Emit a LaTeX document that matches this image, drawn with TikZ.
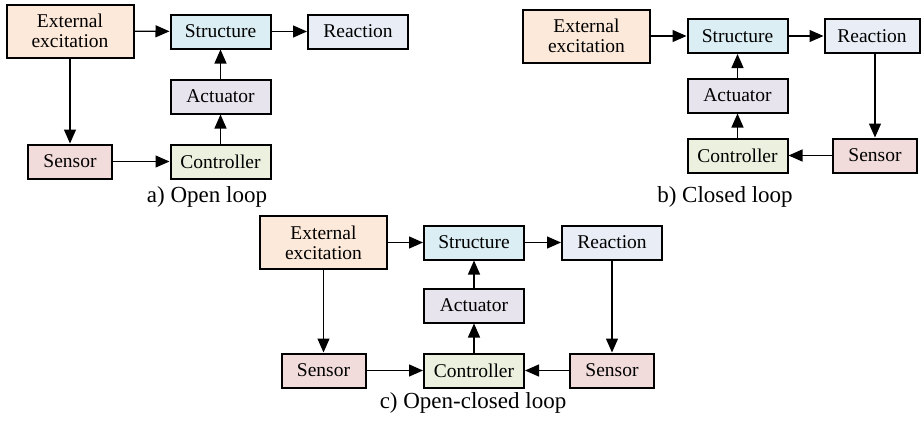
\documentclass[tikz,border=0pt]{standalone}
\usepackage{fontspec}
\newfontfamily\fuente{Liberation Serif}[Scale=1.0]
\usetikzlibrary{arrows.meta}

\definecolor{cexc}{HTML}{FDE9D9}
\definecolor{cest}{HTML}{DAEEF3}
\definecolor{creac}{HTML}{E8EDF6}
\definecolor{cact}{HTML}{E8E4EE}
\definecolor{csen}{HTML}{F2DCDB}
\definecolor{ccon}{HTML}{EBF1DE}

\tikzset{
  bloque/.style={draw, line width=2pt, minimum width=100pt, minimum height=34pt,
    inner sep=0pt, align=center, font=\fuente\fontsize{19.5}{20}\selectfont},
  excit/.style={bloque, fill=cexc, minimum width=127pt, minimum height=53pt},
  sensor/.style={bloque, fill=csen, minimum width=84pt},
  flecha/.style={line width=1.3pt, -{Triangle[length=14pt,width=12pt]}},
  titulo/.style={font=\fuente\fontsize{23}{25}\selectfont}
}

\begin{document}
\begin{tikzpicture}[x=1pt,y=-1pt]
\useasboundingbox (0,0) rectangle (921,423);

% a) Lazo abierto
\node[excit] (exta) at (70,31) {External\\excitation};
\node[bloque, fill=cest] (esta) at (220.5,31.5) {Structure};
\node[bloque, fill=creac] (reaa) at (358,31.5) {Reaction};
\node[bloque, fill=cact] (acta) at (220.5,96.5) {Actuator};
\node[sensor] (sena) at (70,161.5) {Sensor};
\node[bloque, fill=ccon] (cona) at (220.5,161.5) {Controller};
\node[titulo] (tita) at (207,197) {a) Open loop};

\draw[flecha] (exta) -- (esta);
\draw[flecha] (esta) -- (reaa);
\draw[flecha] (exta) -- (sena);
\draw[flecha] (sena) -- (cona);
\draw[flecha] (cona) -- (acta);
\draw[flecha] (acta) -- (esta);

% b) Lazo cerrado
\node[excit] (extb) at (586.5,36) {External\\excitation};
\node[bloque, fill=cest] (estb) at (737.5,36) {Structure};
\node[bloque, fill=creac, minimum width=95pt] (reab) at (872,36) {Reaction};
\node[bloque, fill=cact] (actb) at (737.5,95.5) {Actuator};
\node[bloque, fill=ccon] (conb) at (737.5,155.5) {Controller};
\node[sensor] (senb) at (875,155.5) {Sensor};
\node[titulo] (titb) at (725,197) {b) Closed loop};

\draw[flecha] (extb) -- (estb);
\draw[flecha] (estb) -- (reab);
\draw[flecha] (senb.north |- reab.south) -- (senb.north);
\draw[flecha] (senb) -- (conb);
\draw[flecha] (conb) -- (actb);
\draw[flecha] (actb) -- (estb);

% c) Lazo abierto-cerrado
\node[excit] (extc) at (323.5,242.5) {External\\excitation};
\node[bloque, fill=cest] (estc) at (474,242.5) {Structure};
\node[bloque, fill=creac] (reac) at (612,242.5) {Reaction};
\node[bloque, fill=cact] (actc) at (474,305.5) {Actuator};
\node[sensor] (sen1c) at (323.5,370.5) {Sensor};
\node[bloque, fill=ccon] (conc) at (474,370.5) {Controller};
\node[sensor] (sen2c) at (612,370.5) {Sensor};
\node[titulo] (titc) at (473,403) {c) Open-closed loop};

\draw[flecha] (extc) -- (estc);
\draw[flecha] (estc) -- (reac);
\draw[flecha] (extc) -- (sen1c);
\draw[flecha] (reac) -- (sen2c);
\draw[flecha] (sen1c) -- (conc);
\draw[flecha] (sen2c) -- (conc);
\draw[flecha] (conc) -- (actc);
\draw[flecha] (actc) -- (estc);
\end{tikzpicture}
\end{document}
